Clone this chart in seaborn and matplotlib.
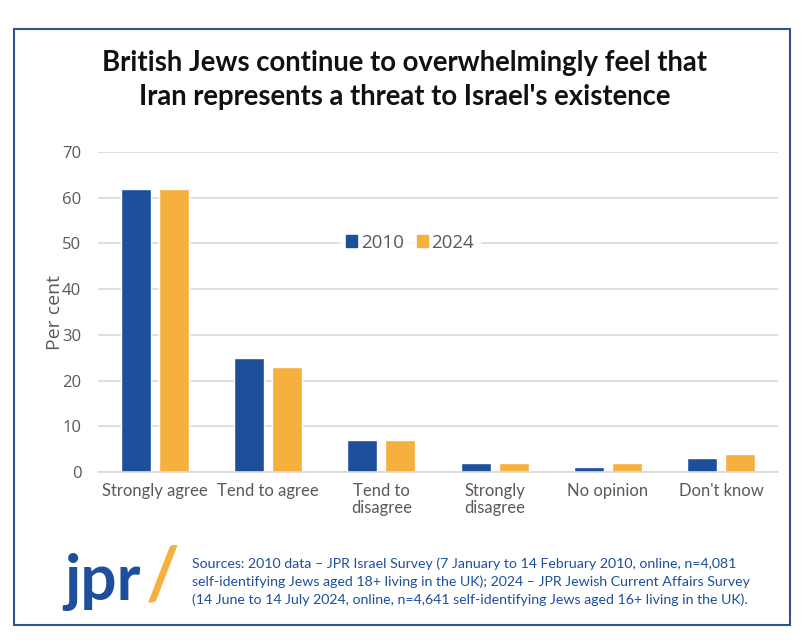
import numpy as np
import pandas as pd
import matplotlib
matplotlib.use("Agg")
import matplotlib.pyplot as plt
import seaborn as sns
from matplotlib.patches import Rectangle, Patch

# data
categories = ["Strongly agree", "Tend to agree", "Tend to\ndisagree",
              "Strongly\ndisagree", "No opinion", "Don't know"]
values_2010 = [62, 25, 7, 2, 1, 3]
values_2024 = [62, 23, 7, 2, 2, 4]
years = ["2010", "2024"]

title = "British Jews continue to overwhelmingly feel that\nIran represents a threat to Israel's existence"
source = ("Sources: 2010 data \u2013 JPR Israel Survey (7 January to 14 February 2010, online, n=4,081\n"
          "self-identifying Jews aged 18+ living in the UK); 2024 \u2013 JPR Jewish Current Affairs Survey\n"
          "(14 June to 14 July 2024, online, n=4,641 self-identifying Jews aged 16+ living in the UK).")

blue = "#1d4f9c"
orange = "#f5b03e"
grey_txt = "#595959"

df = pd.DataFrame({
    "category": categories * 2,
    "value": values_2010 + values_2024,
    "year": [years[0]] * len(categories) + [years[1]] * len(categories),
})

sns.set_style("white")
plt.rcParams["font.family"] = ["Open Sans", "DejaVu Sans"]

fig = plt.figure(figsize=(8.05, 6.44), dpi=100)
ax = fig.add_axes([98 / 805, 172 / 644, 680 / 805, 320 / 644])

sns.barplot(data=df, x="category", y="value", hue="year", order=categories,
            hue_order=years, palette=[blue, orange], width=0.67, gap=0.21,
            saturation=1, ax=ax, legend=False)

ax.set_xlim(-0.5, 5.5)
ax.set_ylim(0, 70)
ax.set_yticks(range(0, 71, 10))
ax.yaxis.grid(True, color="#d9d9d9", linewidth=1.2)
ax.set_axisbelow(True)
for s in ["top", "right", "left"]:
    ax.spines[s].set_visible(False)
ax.spines["bottom"].set_color("#d9d9d9")
ax.spines["bottom"].set_linewidth(1.2)
ax.tick_params(axis="both", length=0, colors=grey_txt, labelsize=12)
ax.tick_params(axis="y", pad=12)
ax.tick_params(axis="x", pad=8)
for lbl in ax.get_xticklabels():
    lbl.set_family(["Lato", "DejaVu Sans"])
    lbl.set_fontsize(12)
    lbl.set_linespacing(1.05)
ax.set_xlabel("")
ax.set_ylabel("Per cent", color=grey_txt, fontsize=14)
ax.yaxis.set_label_coords((64 - 98) / 680, 0.5)

handles = [Patch(color=blue, label=years[0]), Patch(color=orange, label=years[1])]
leg = ax.legend(handles=handles, loc="center", bbox_to_anchor=(410 / 805, (644 - 243) / 644),
                bbox_transform=fig.transFigure, ncol=2, frameon=True, fontsize=13.5,
                handlelength=0.6, handleheight=0.6, handletextpad=0.2,
                columnspacing=0.7, borderpad=0.3, labelcolor=grey_txt)
leg.get_frame().set_facecolor("white")
leg.get_frame().set_edgecolor("white")

fig.text(0.503, 1 - 80 / 644, title, ha="center", va="center", fontsize=19.8,
         fontweight="bold", color="#111111", linespacing=1.4,
         family=["Lato", "DejaVu Sans"])

# footer logo and sources
fig.text(64 / 805, 1 - 582 / 644, "jpr", ha="left", va="center", fontsize=46,
         fontweight="bold", color=blue, family=["Lato", "DejaVu Sans"])
fig.text(146 / 805, 1 - 578 / 644, "/", ha="left", va="center", fontsize=52,
         fontweight="bold", color=orange, family=["Lato", "DejaVu Sans"])
fig.text(192 / 805, 1 - 582 / 644, source, ha="left", va="center", fontsize=10.2,
         color=blue, linespacing=1.5, family=["Lato", "DejaVu Sans"])

# border around the whole graphic
fig.patches.append(Rectangle((14 / 805, 1 - 625 / 644), 776 / 805, 596 / 644,
                             transform=fig.transFigure, fill=False,
                             edgecolor="#2f5597", linewidth=1.5))

fig.savefig("out.png", dpi=100, facecolor="white")
